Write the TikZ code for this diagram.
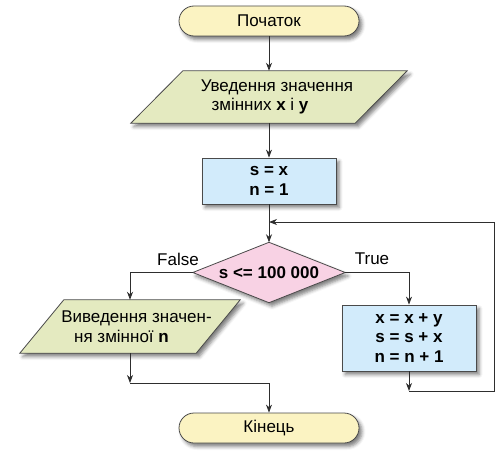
\documentclass[tikz,border=0pt]{standalone}
\usepackage{fontspec}
\setmainfont{Liberation Sans}
\usetikzlibrary{arrows.meta,shadows.blur,calc,backgrounds}
\definecolor{edgec}{HTML}{4A4A4A}
\definecolor{linec}{HTML}{2E2E2E}
\definecolor{termfill}{HTML}{FBF3C2}
\definecolor{iofill}{HTML}{E4EAC0}
\definecolor{procfill}{HTML}{D2EBFB}
\definecolor{decfill}{HTML}{F8D2E4}
\begin{document}
\begin{tikzpicture}[x=1pt,y=-1pt,
  font=\fontsize{17}{19.5}\selectfont,
  every node/.style={inner sep=0pt},
  shade/.style={blur shadow={shadow xshift=3pt,shadow yshift=-3.5pt,shadow blur radius=3.5pt,shadow opacity=50}},
  term/.style={draw=edgec,fill=termfill,line width=0.8pt,rounded corners=15pt,minimum width=180pt,minimum height=30pt,shade},
  proc/.style={draw=edgec,fill=procfill,line width=0.8pt,align=center,shade},
  holder/.style={align=center},
  shapeline/.style={draw=edgec,line width=0.8pt,shade},
  arr/.style={draw=linec,line width=0.8pt,-{Stealth[length=8pt,width=6pt,inset=2.5pt]}},
  lbl/.style={}
]
\useasboundingbox (0,0) rectangle (502,452);
\node[term] (start) at (269,21) {Початок};
\node[holder,minimum width=224pt,minimum height=52pt] (in1) at (269,97)
  {\hspace*{16pt}Уведення значення\\змінних \textbf{x} і \textbf{y}\hspace*{18pt}};
\node[proc,minimum width=134pt,minimum height=46pt] (init) at (269,181)
  {\textbf{s = x}\\\textbf{n = 1}};
\node[holder,minimum width=152pt,minimum height=60pt] (dec) at (269,272.5)
  {\textbf{s <= 100 000}};
\node[holder,minimum width=176pt,minimum height=53pt] (out) at (130,326.5)
  {\hspace*{13pt}Виведення значен-\\ня змінної \textbf{n}\hspace*{17pt}};
\node[proc,minimum width=134pt,minimum height=66pt] (body) at (409,338)
  {\textbf{x = x + y}\\\textbf{s = s + x}\\\textbf{n = n + 1}};
\node[term] (end) at (269,428) {Кінець};
\node[lbl] (lfalse) at (178,259) {False};
\node[lbl] (ltrue) at (372,259) {True};

\begin{scope}[on background layer]
  \path[shapeline,fill=iofill]
    ($(in1.north west)+(26,0)$) -- ($(in1.north east)+(26,0)$) --
    ($(in1.south east)+(-26,0)$) -- ($(in1.south west)+(-26,0)$) -- cycle;
  \path[shapeline,fill=iofill]
    ($(out.north west)+(22,0)$) -- ($(out.north east)+(22,0)$) --
    ($(out.south east)+(-22,0)$) -- ($(out.south west)+(-22,0)$) -- cycle;
  \path[shapeline,fill=decfill]
    (dec.north) -- (dec.east) -- (dec.south) -- (dec.west) -- cycle;
\end{scope}

\coordinate (lb) at (494,391);
\coordinate (lt) at (494,222);
\coordinate (mg) at (130,383);

\draw[arr] (start) -- (in1);
\draw[arr] (in1) -- (init);
\draw[arr] (init) -- (dec.north);
\draw[arr] (dec.east) -| (body.north);
\draw[arr] (dec.west) -| (out.north);
\draw[arr] (body.south) -- (body.south |- lb);
\draw[arr] (body.south |- lb) -- (lb) -- (lt) -- (init.south |- lt);
\draw[arr] (out.south) -- (mg);
\draw[arr] (mg) -| (end.north);
\end{tikzpicture}
\end{document}
